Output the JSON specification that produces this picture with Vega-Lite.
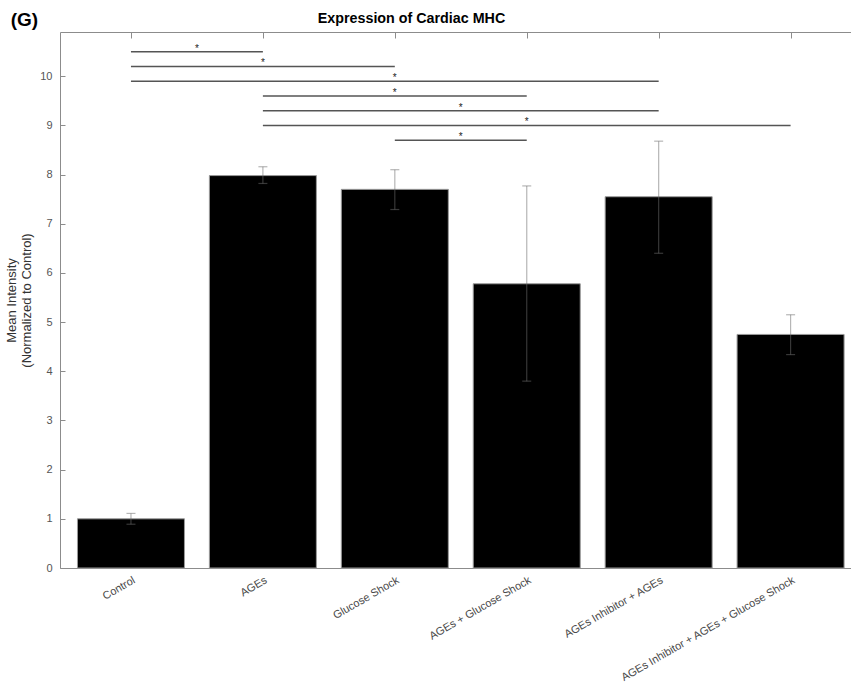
{
  "$schema": "https://vega.github.io/schema/vega-lite/v6.json",
  "width": 791,
  "height": 536,
  "autosize": {"type": "none"},
  "padding": {"left": 60, "top": 32, "right": 0, "bottom": 119},
  "background": "white",
  "config": {
    "view": {"stroke": null},
    "font": "Liberation Sans",
    "axis": {"grid": false, "domainColor": "#8c8c8c", "tickColor": "#8c8c8c", "labelFont": "Liberation Sans", "titleFont": "Liberation Sans"}
  },
  "title": {
    "text": "(G)",
    "anchor": "start",
    "frame": "bounds",
    "fontSize": 19,
    "fontWeight": "bold",
    "font": "Liberation Sans",
    "color": "#000000",
    "baseline": "alphabetic",
    "offset": -34,
    "dx": 5
  },
  "datasets": {
    "bars": [
      {"i": 1, "group": "Control", "mean": 1.0, "lo": 0.89, "hi": 1.11},
      {"i": 2, "group": "AGEs", "mean": 7.98, "lo": 7.82, "hi": 8.16},
      {"i": 3, "group": "Glucose Shock", "mean": 7.7, "lo": 7.29, "hi": 8.1},
      {"i": 4, "group": "AGEs + Glucose Shock", "mean": 5.78, "lo": 3.8, "hi": 7.77},
      {"i": 5, "group": "AGEs Inhibitor + AGEs", "mean": 7.55, "lo": 6.4, "hi": 8.68},
      {"i": 6, "group": "AGEs Inhibitor + AGEs + Glucose Shock", "mean": 4.75, "lo": 4.34, "hi": 5.15}
    ],
    "sig": [
      {"a": 1, "b": 2, "y": 10.5, "star": "*"},
      {"a": 1, "b": 3, "y": 10.2, "star": "*"},
      {"a": 1, "b": 5, "y": 9.9, "star": "*"},
      {"a": 2, "b": 4, "y": 9.6, "star": "*"},
      {"a": 2, "b": 5, "y": 9.3, "star": "*"},
      {"a": 2, "b": 6, "y": 9.0, "star": "*"},
      {"a": 3, "b": 4, "y": 8.7, "star": "*"}
    ]
  },
  "resolve": {"axis": {"x": "independent"}},
  "layer": [
    {
      "data": {"name": "bars"},
      "mark": {"type": "bar", "width": 107, "color": "#000000", "stroke": "#9a9a9a", "strokeWidth": 1},
      "encoding": {
        "x": {
          "field": "i", "type": "quantitative",
          "scale": {"domain": [0.5, 6.42], "nice": false, "zero": false},
          "axis": {
            "orient": "bottom", "title": null, "values": [1, 2, 3, 4, 5, 6],
            "labelExpr": "['Control','AGEs','Glucose Shock','AGEs + Glucose Shock','AGEs Inhibitor + AGEs','AGEs Inhibitor + AGEs + Glucose Shock'][datum.value - 1]",
            "labelAngle": -30, "labelAlign": "right", "labelBaseline": "top",
            "labelFontSize": 11, "labelColor": "#4a4a4a", "labelPadding": 12,
            "labelOverlap": false, "labelBound": false, "labelFlush": false, "labelLimit": 0,
            "tickSize": -6, "domainColor": "#8c8c8c"
          }
        },
        "y": {
          "field": "mean", "type": "quantitative",
          "scale": {"domain": [0, 10.9], "nice": false},
          "axis": {
            "values": [0, 1, 2, 3, 4, 5, 6, 7, 8, 9, 10],
            "title": ["Mean Intensity", "(Normalized to Control)"],
            "titleFontSize": 13, "titleFontWeight": "normal", "titleColor": "#333333",
            "titlePadding": 6,
            "labelFontSize": 11, "labelColor": "#555555", "labelPadding": 13,
            "tickSize": -5
          }
        }
      }
    },
    {
      "data": {"name": "bars"},
      "mark": {"type": "rule", "stroke": "#6d6d6d", "strokeOpacity": 0.5, "strokeWidth": 1.2},
      "encoding": {
        "x": {"field": "i", "type": "quantitative", "axis": null},
        "y": {"field": "lo", "type": "quantitative"},
        "y2": {"field": "hi"}
      }
    },
    {
      "data": {"name": "bars"},
      "mark": {"type": "tick", "orient": "horizontal", "size": 9, "thickness": 1.2, "color": "#6d6d6d", "opacity": 0.5},
      "encoding": {
        "x": {"field": "i", "type": "quantitative", "axis": null},
        "y": {"field": "lo", "type": "quantitative"}
      }
    },
    {
      "data": {"name": "bars"},
      "mark": {"type": "tick", "orient": "horizontal", "size": 9, "thickness": 1.2, "color": "#6d6d6d", "opacity": 0.5},
      "encoding": {
        "x": {"field": "i", "type": "quantitative", "axis": null},
        "y": {"field": "hi", "type": "quantitative"}
      }
    },
    {
      "data": {"name": "sig"},
      "mark": {"type": "rule", "stroke": "#555555", "strokeWidth": 1.5},
      "encoding": {
        "x": {
          "field": "a", "type": "quantitative",
          "axis": {
            "orient": "top", "values": [1, 2, 3, 4, 5, 6], "labels": false, "tickSize": -6,
            "title": "Expression of Cardiac MHC", "titleFontSize": 14.3, "titleFontWeight": "bold",
            "titleColor": "#000000", "titleX": 351, "titleY": -10, "titleBaseline": "alphabetic"
          }
        },
        "x2": {"field": "b"},
        "y": {"field": "y", "type": "quantitative"}
      }
    },
    {
      "data": {"name": "sig"},
      "transform": [{"fold": ["a", "b"], "as": ["end", "pos"]}],
      "mark": {"type": "text", "fontSize": 10, "color": "#222222", "baseline": "alphabetic", "align": "center"},
      "encoding": {
        "x": {"field": "pos", "type": "quantitative", "aggregate": "mean", "axis": null},
        "y": {"field": "y", "type": "quantitative"},
        "text": {"field": "star"}
      }
    }
  ]
}
